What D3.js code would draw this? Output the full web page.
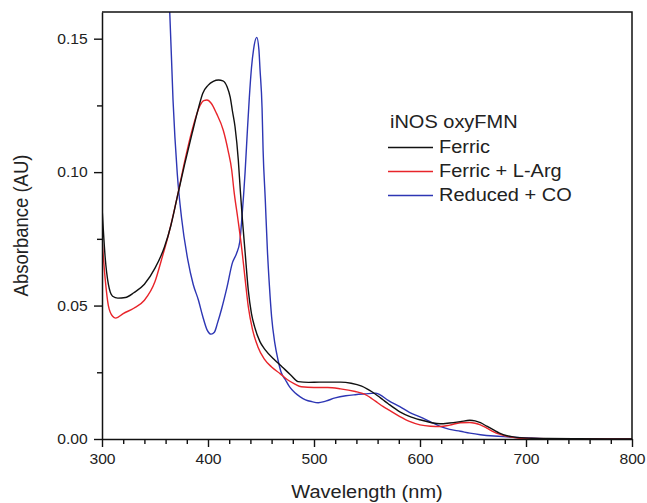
<!DOCTYPE html>
<html><head><meta charset="utf-8">
<script src="https://cdn.jsdelivr.net/npm/d3@7"></script>
<style>
body{margin:0;background:#fff;}
svg text{font-family:Arial,"Liberation Sans",sans-serif;fill:#222;}
</style></head>
<body><svg id="c" width="647" height="503"></svg>
<script>
const xTicks = [300,400,500,600,700,800];
const yTicks = [0.00,0.05,0.10,0.15];
const legendTitle = "iNOS oxyFMN";
const seriesNames = ["Ferric","Ferric + L-Arg","Reduced + CO"];
const seriesColors = ["#111111","#e8242a","#2d36b4"];

const ferricWl = [300,303,306,310,315,322,330,340,350,359,365,371,378,385,391,395,400,405,410,414,418,421,423,425.5,428.6,430.5,432.5,435,438,441,444,449,454,462,470,478,485,495,505,513,525,535,545,550,555,560,565,570,581,590,600,610,619,628,638,647,652,657,663,669,675,682,688,694,705,720,750,800];
const ferricAbs = [0.087,0.068,0.058,0.0535,0.0528,0.053,0.0548,0.058,0.064,0.072,0.080,0.0907,0.103,0.1145,0.124,0.1295,0.1325,0.134,0.1345,0.1342,0.132,0.128,0.123,0.117,0.1045,0.093,0.082,0.070,0.0558,0.047,0.042,0.0365,0.0334,0.030,0.027,0.024,0.0215,0.0212,0.0213,0.0213,0.0213,0.0209,0.0198,0.0188,0.0176,0.0162,0.0147,0.0132,0.0102,0.0085,0.0072,0.0062,0.0057,0.006,0.0065,0.0070,0.0068,0.0061,0.0048,0.0035,0.0022,0.0012,0.0008,0.0005,0.0003,0.0002,0.0001,0.0];

const argWl = [300,303,306,310,313,320,330,340,350,356,363,371,378,385,392.5,396,399,403,408,414.4,419,422.4,424.5,428,432,435,438,442,447,453,460,468,475,482,488,500,513,525,539,545,550,555,560,565,570,581,590,600,610,619,628,638,647,652,657,663,669,675,682,688,694,705,720,750,800];
const argAbs = [0.075,0.060,0.050,0.046,0.0453,0.047,0.049,0.052,0.059,0.067,0.077,0.0907,0.104,0.1157,0.125,0.1268,0.127,0.1258,0.122,0.1157,0.108,0.1007,0.093,0.083,0.0708,0.060,0.0496,0.041,0.0346,0.030,0.027,0.0245,0.0222,0.0206,0.0196,0.0193,0.0193,0.0188,0.0178,0.0172,0.0163,0.0150,0.0136,0.0122,0.011,0.0084,0.0066,0.0053,0.0048,0.0047,0.0052,0.0061,0.0062,0.0059,0.0053,0.0041,0.0028,0.0018,0.0010,0.0006,0.0003,0.0002,0.0001,0.0,0.0];

const coWl = [350,355,360,364,367,371,375,381,386,391,395,399,403,406,409,413,418,423,427,430,432,435,437,439,441,443,446,448,449,451,452,454,456,458,460,463,466,469,473,477,482,487,492,498,504,511,520,530,539,548,558,562,570,581,590,600,610,619,628,638,647,657,670,682,700,720,750,800];
const coAbs = [0.24,0.21,0.178,0.159,0.127,0.0995,0.083,0.067,0.058,0.052,0.046,0.041,0.0393,0.040,0.0435,0.049,0.057,0.066,0.0696,0.074,0.083,0.100,0.1145,0.128,0.139,0.146,0.1505,0.146,0.139,0.124,0.108,0.090,0.071,0.057,0.0458,0.036,0.0297,0.025,0.0222,0.0195,0.0173,0.0158,0.0147,0.014,0.0136,0.0142,0.0154,0.0162,0.0166,0.0169,0.0172,0.0166,0.0145,0.0121,0.010,0.0083,0.0064,0.0047,0.0036,0.0029,0.0022,0.0016,0.0011,0.0008,0.0004,0.0001,0.0,0.0];

const svg = d3.select("#c");
const L=102, R=632, T=12, B=439;
const SX = 1.08;
const x = d3.scaleLinear().domain([300,800]).range([L,R]);
const y = d3.scaleLinear().domain([0,0.16]).range([B,T]);

svg.append("clipPath").attr("id","clip").append("rect")
  .attr("x",L).attr("y",T).attr("width",R-L).attr("height",B-T);

const series = [
  {wl:ferricWl, a:ferricAbs},
  {wl:argWl, a:argAbs},
  {wl:coWl, a:coAbs}
];
const line = d3.line().x(d=>x(d[0])).y(d=>y(d[1])).curve(d3.curveMonotoneX);
const g = svg.append("g").attr("clip-path","url(#clip)");
[2,1,0].forEach(i=>{
  const s = series[i];
  g.append("path").datum(s.wl.map((w,j)=>[w,s.a[j]]))
    .attr("d",line).attr("fill","none")
    .attr("stroke",seriesColors[i]).attr("stroke-width",1.4)
    .attr("stroke-linejoin","round");
});

// x axis
const xMinor = d3.range(300,801,20).filter(v=>v%100!==0);
const xa = svg.append("g").attr("transform",`translate(0,${B})`)
  .call(d3.axisBottom(x).tickValues(xTicks).tickSize(8).tickSizeOuter(0).tickFormat(d3.format("d")));
xa.selectAll("text").attr("font-size",14.5).attr("dy","0.95em").attr("fill","#222").attr("transform",`scale(${SX},1)`);
svg.append("g").attr("transform",`translate(0,${B})`)
  .call(d3.axisBottom(x).tickValues(xMinor).tickSize(5).tickSizeOuter(0).tickFormat(""))
  .select(".domain").remove();
// y axis
const yMinor = [0.025,0.075,0.125];
const ya = svg.append("g").attr("transform",`translate(${L},0)`)
  .call(d3.axisLeft(y).tickValues(yTicks).tickSize(8).tickSizeOuter(0).tickFormat(d3.format(".2f")));
ya.selectAll("text").attr("font-size",14.5).attr("dx","-0.15em").attr("fill","#222").attr("transform",`scale(${SX},1)`);
svg.append("g").attr("transform",`translate(${L},0)`)
  .call(d3.axisLeft(y).tickValues(yMinor).tickSize(5).tickSizeOuter(0).tickFormat(""))
  .select(".domain").remove();
svg.selectAll(".tick line").attr("stroke","#111").attr("stroke-width",1.4);
svg.selectAll(".domain").attr("stroke","#111").attr("stroke-width",1.5);
// frame top & right
svg.append("path").attr("d",`M${L},${T}H${R}V${B}`).attr("fill","none").attr("stroke","#111").attr("stroke-width",1.5);

// axis titles
svg.append("text").attr("transform",`translate(${(L+R)/2},498) scale(${SX},1)`).attr("text-anchor","middle").attr("font-size",18.5).text("Wavelength (nm)");
svg.append("text").attr("transform",`translate(28,${(T+B)/2}) scale(${SX},1) rotate(-90)`).attr("text-anchor","middle").attr("font-size",18.5).text("Absorbance (AU)");

// legend
const lg = svg.append("g");
lg.append("text").attr("transform",`translate(390,128) scale(${SX},1)`).attr("font-size",18.5).text(legendTitle);
seriesNames.forEach((n,i)=>{
  const yy = 147.5 + i*24;
  lg.append("line").attr("x1",388).attr("x2",433).attr("y1",yy).attr("y2",yy)
    .attr("stroke",seriesColors[i]).attr("stroke-width",1.4);
  lg.append("text").attr("transform",`translate(439,${yy+5}) scale(${SX},1)`).attr("font-size",18.5).text(n);
});
</script></body></html>
